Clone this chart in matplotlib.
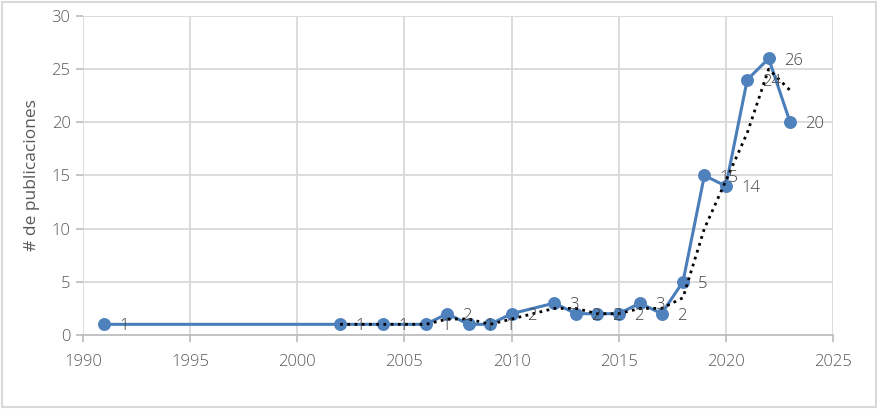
import matplotlib
matplotlib.use("Agg")
import matplotlib.pyplot as plt
from matplotlib.patches import Rectangle

plt.rcParams['font.family'] = ['Open Sans', 'DejaVu Sans']
plt.rcParams['font.weight'] = 'light'

years = [1991, 2002, 2004, 2006, 2007, 2008, 2009, 2010, 2012, 2013, 2014, 2015,
         2016, 2017, 2018, 2019, 2020, 2021, 2022, 2023]
counts = [1, 1, 1, 1, 2, 1, 1, 2, 3, 2, 2, 2, 3, 2, 5, 15, 14, 24, 26, 20]

trend_years = [2002, 2004, 2006, 2007, 2008, 2009, 2010, 2012, 2013, 2014, 2015,
               2016, 2017, 2018, 2019, 2020, 2021, 2022, 2023]
trend_vals = [1, 1, 1, 1.5, 1.5, 1, 1.5, 2.5, 2.5, 2, 2, 2.5, 2.5, 3.5, 10, 14.5, 19, 25, 23]

xticks = [1990, 1995, 2000, 2005, 2010, 2015, 2020, 2025]
yticks = [0, 5, 10, 15, 20, 25, 30]

fig = plt.figure(figsize=(8.78, 4.09), dpi=100)
fig.patch.set_facecolor('white')
fig.add_artist(Rectangle((0.002, 0.004), 0.996, 0.992, transform=fig.transFigure,
                         fill=False, edgecolor='#d9d9d9', linewidth=1.5))
ax = fig.add_axes([0.0945, 0.181, 0.8542, 0.780])

ax.plot(years, counts, color='#4a7ebb', lw=2.2, marker='o', ms=8.3,
        markerfacecolor='#4f81bd', markeredgecolor='#4f81bd', zorder=3)
ax.plot(trend_years, trend_vals, color='black', lw=2, linestyle=(0, (1, 1.6)), zorder=4)

for x, y in zip(years, counts):
    ax.annotate(str(y), (x, y), xytext=(11, -1.5), textcoords='offset points',
                ha='left', va='center', fontsize=12, color='#404040', zorder=5)

ax.set_xlim(1990, 2025)
ax.set_ylim(0, 30)
ax.set_xticks(xticks)
ax.set_yticks(yticks)
ax.grid(True, color='#d9d9d9', lw=1.3)
ax.set_axisbelow(True)
for s in ['top', 'right']:
    ax.spines[s].set_visible(False)
ax.spines['left'].set_visible(False)
ax.spines['bottom'].set_color('#bfbfbf')
ax.spines['bottom'].set_linewidth(1.3)
ax.tick_params(axis='both', colors='#bfbfbf', length=5, width=1.3, labelsize=12,
               labelcolor='#595959')
ax.tick_params(axis='x', pad=9)
ax.tick_params(axis='y', pad=4)
ax.set_ylabel('# de publicaciones', fontsize=12.5, color='#595959', labelpad=8)

fig.savefig('out.png', dpi=100)
